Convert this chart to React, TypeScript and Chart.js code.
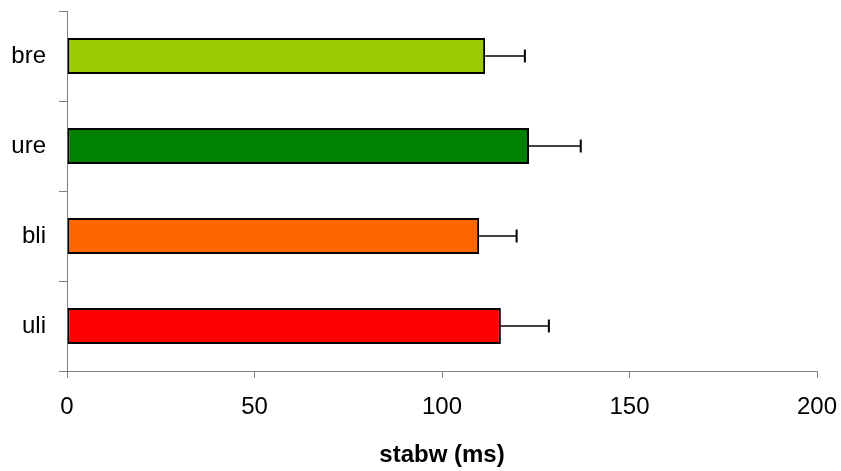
import React, { useEffect, useRef } from "react";
import { Chart, registerables } from "chart.js";

Chart.register(...registerables);

const categories = ["bre", "ure", "bli", "uli"];
const means = [111.5, 123.2, 109.9, 115.7];
const stdErr = [10.6, 13.8, 10.0, 12.8];
const barColors = ["#99CC00", "#008000", "#FF6600", "#FF0000"];
const xTickValues = [0, 50, 100, 150, 200];
const xTitle = "stabw (ms)";

const FONT = "'Liberation Sans', Arial, Helvetica, sans-serif";

const errorBarPlugin = {
  id: "errorBars",
  afterDatasetsDraw(chart: any) {
    const meta = chart.getDatasetMeta(0);
    const xScale = chart.scales.x;
    const ctx = chart.ctx;
    ctx.save();
    ctx.strokeStyle = "#000000";
    meta.data.forEach((bar: any, i: number) => {
      const x0 = bar.x;
      const x1 = xScale.getPixelForValue(means[i] + stdErr[i]);
      const y = bar.y;
      ctx.lineWidth = 1.5;
      ctx.beginPath();
      ctx.moveTo(x0, y);
      ctx.lineTo(x1, y);
      ctx.stroke();
      ctx.lineWidth = 2;
      ctx.beginPath();
      ctx.moveTo(x1, y - 6.5);
      ctx.lineTo(x1, y + 6.5);
      ctx.stroke();
    });
    ctx.restore();
  },
};

export default function App() {
  const ref = useRef<HTMLCanvasElement>(null);
  useEffect(() => {
    document.body.style.margin = "0";
    const chart = new Chart(ref.current as HTMLCanvasElement, {
      type: "bar",
      data: {
        labels: categories,
        datasets: [
          {
            data: means,
            backgroundColor: barColors,
            borderColor: "#000000",
            borderWidth: 2,
            borderSkipped: false,
            categoryPercentage: 1,
            barPercentage: 0.4,
          },
        ],
      },
      options: {
        indexAxis: "y",
        animation: false,
        responsive: false,
        devicePixelRatio: 1,
        layout: { padding: { left: 0, top: 11, right: 24, bottom: 0 } },
        plugins: {
          legend: { display: false },
          tooltip: { enabled: false },
        },
        scales: {
          x: {
            min: 0,
            max: 200,
            afterBuildTicks: (scale: any) => {
              scale.ticks = xTickValues.map((v) => ({ value: v }));
            },
            afterFit: (scale: any) => {
              scale.height = 100;
              scale.paddingLeft = 0;
              scale.paddingRight = 0;
            },
            grid: {
              drawOnChartArea: false,
              drawTicks: true,
              tickLength: 7,
              color: "#808080",
            },
            border: { color: "#808080", width: 1 },
            ticks: {
              color: "#000000",
              padding: 15,
              font: { family: FONT, size: 24 },
            },
            title: {
              display: true,
              text: xTitle,
              color: "#000000",
              font: { family: FONT, size: 24, weight: "bold" },
              padding: { top: 0, bottom: 1 },
            },
          },
          y: {
            afterFit: (scale: any) => {
              scale.width = 67;
              scale.paddingTop = 0;
              scale.paddingBottom = 0;
            },
            grid: {
              offset: true,
              drawOnChartArea: false,
              drawTicks: true,
              tickLength: 8,
              color: "#808080",
            },
            border: { color: "#808080", width: 1 },
            ticks: {
              color: "#000000",
              padding: 13,
              font: { family: FONT, size: 24 },
            },
          },
        },
      },
      plugins: [errorBarPlugin],
    } as any);
    return () => chart.destroy();
  }, []);
  return (
    <div style={{ position: "fixed", left: 0, top: 0, width: 841, height: 471, background: "#fff" }}>
      <canvas ref={ref} width={841} height={471} style={{ display: "block" }} />
    </div>
  );
}
